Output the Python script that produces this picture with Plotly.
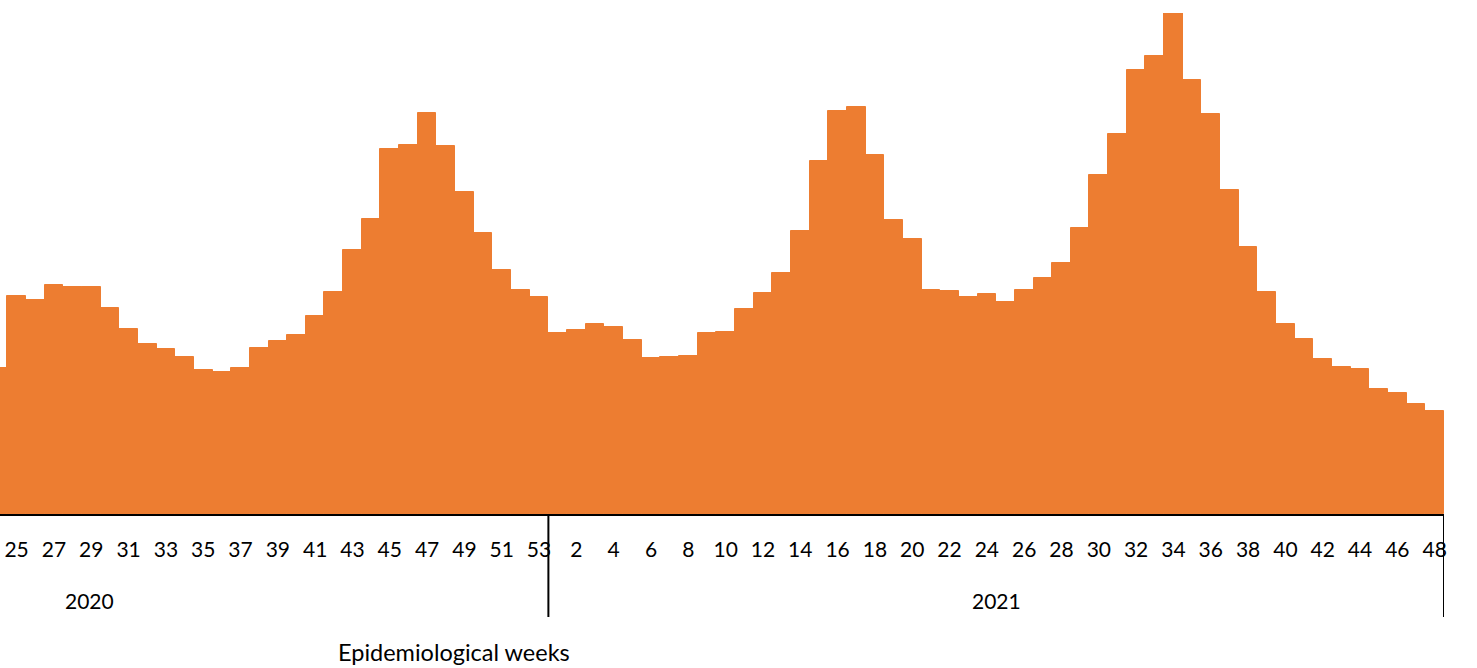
import plotly.graph_objects as go

# ---- data (arbitrary units, no y axis shown) ----
weeks_2020 = [24, 25, 26, 27, 28, 29, 30, 31, 32, 33, 34, 35, 36, 37, 38, 39, 40,
              41, 42, 43, 44, 45, 46, 47, 48, 49, 50, 51, 52, 53]
values_2020 = [146, 218, 214, 229, 227, 227, 206, 185, 170, 165, 157, 144, 142, 146,
               166, 173, 179, 198, 222, 264, 295, 365, 369, 401, 368, 322, 281, 244,
               224, 217]

weeks_2021 = [1, 2, 3, 4, 5, 6, 7, 8, 9, 10, 11, 12, 13, 14, 15, 16, 17, 18, 19, 20,
              21, 22, 23, 24, 25, 26, 27, 28, 29, 30, 31, 32, 33, 34, 35, 36, 37, 38,
              39, 40, 41, 42, 43, 44, 45, 46, 47, 48]
values_2021 = [181, 184, 190, 187, 174, 156, 157, 158, 181, 182, 205, 221, 241, 283,
               353, 403, 407, 359, 294, 275, 224, 223, 217, 220, 212, 224, 236, 251,
               286, 339, 380, 444, 458, 501, 434, 400, 324, 267, 222, 190, 175, 155,
               147, 145, 125, 121, 110, 103]

years = ["2020", "2021"]
axis_title = "Epidemiological weeks"

# ---- build categories ----
cat_year = [2020] * len(weeks_2020) + [2021] * len(weeks_2021)
cat_week = weeks_2020 + weeks_2021
values = values_2020 + values_2021
xpos = list(range(len(values)))

tickvals, ticktext = [], []
for i, (yr, wk) in enumerate(zip(cat_year, cat_week)):
    if (yr == 2020 and wk % 2 == 1) or (yr == 2021 and wk % 2 == 0):
        tickvals.append(i)
        ticktext.append(str(wk))

ORANGE = "#ED7D31"
FONT = "Lato"
FS = 21

fig = go.Figure(
    go.Bar(
        x=xpos,
        y=values,
        marker=dict(color=ORANGE, line=dict(color=ORANGE, width=1)),
        hoverinfo="skip",
    )
)

n2020 = len(weeks_2020)
boundary = n2020 - 0.5          # between 2020 w53 and 2021 w1
right_edge = len(values) - 0.5  # end of 2021 w48

fig.update_layout(
    width=1477,
    height=668,
    margin=dict(l=0, r=33, t=13, b=154),
    paper_bgcolor="white",
    plot_bgcolor="white",
    bargap=0,
    showlegend=False,
    font=dict(family=FONT, size=FS, color="black"),
    xaxis=dict(
        range=[0.109, right_edge],
        tickmode="array",
        tickvals=tickvals,
        ticktext=ticktext,
        ticks="outside",
        ticklen=16,
        tickcolor="rgba(0,0,0,0)",
        tickfont=dict(family=FONT, size=FS, color="black"),
        showline=True,
        linecolor="black",
        linewidth=2,
        showgrid=False,
        zeroline=False,
        fixedrange=True,
    ),
    yaxis=dict(range=[0, 501], visible=False, fixedrange=True),
)

sep_bottom = -0.2056
for xv in (boundary, right_edge):
    fig.add_shape(type="line", xref="x", yref="paper", x0=xv, x1=xv,
                  y0=0, y1=sep_bottom, line=dict(color="black", width=2))

fig.add_annotation(x=4.93, xref="x", y=-0.1717, yref="paper", text=years[0],
                   showarrow=False, xanchor="center", yanchor="middle",
                   font=dict(family=FONT, size=FS, color="black"))
fig.add_annotation(x=(boundary + right_edge) / 2, xref="x", y=-0.1717, yref="paper",
                   text=years[1], showarrow=False, xanchor="center", yanchor="middle",
                   font=dict(family=FONT, size=FS, color="black"))
fig.add_annotation(x=0.3145, xref="paper", y=-0.275, yref="paper", text=axis_title,
                   showarrow=False, xanchor="center", yanchor="middle",
                   font=dict(family=FONT, size=23.5, color="black"))

fig.write_html("out.html", config={"displayModeBar": False},
               post_script="document.body.style.margin='0px';")
